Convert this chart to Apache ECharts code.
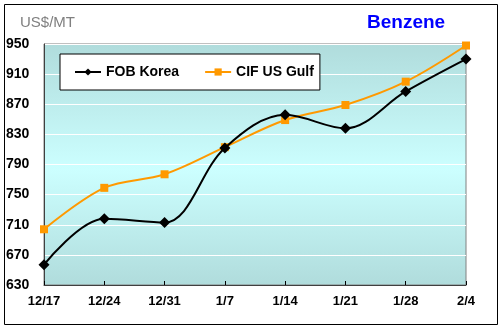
<!DOCTYPE html>
<html>
<head>
<meta charset="utf-8">
<script src="https://cdn.jsdelivr.net/npm/echarts@6/dist/echarts.min.js"></script>
<style>html,body{margin:0;padding:0;background:#fff}#c{width:502px;height:330px}</style>
</head>
<body>
<div id="c"></div>
<script>
var categories = ['12/17','12/24','12/31','1/7','1/14','1/21','1/28','2/4'];
var fobKorea = [657, 718, 713, 812, 856, 838, 887, 930];
var cifUSGulf = [704, 759, 777, 813, 849, 869, 900, 948];
var yTicks = [630, 670, 710, 750, 790, 830, 870, 910, 950];

var chart = echarts.init(document.getElementById('c'), null, {renderer: 'canvas'});
var font = 'Liberation Sans, Arial, sans-serif';
chart.setOption({
  animation: false,
  graphic: [
    {type: 'rect', shape: {x: 4.5, y: 4.5, width: 493, height: 320}, style: {fill: 'none', stroke: '#000', lineWidth: 1}, z: 100},
    {type: 'text', x: 20, y: 23, style: {text: 'US$/MT', fill: '#808080', font: '15px ' + font, verticalAlign: 'middle'}},
    {type: 'text', x: 367, y: 23, style: {text: 'Benzene', fill: '#0000ff', font: 'bold 19px ' + font, verticalAlign: 'middle'}}
  ],
  grid: {
    left: 44, right: 36, top: 44, bottom: 45,
    show: true, borderColor: '#808080', borderWidth: 1,
    backgroundColor: {type: 'linear', x: 0, y: 0, x2: 0, y2: 1, colorStops: [
      {offset: 0, color: '#b0dcdc'}, {offset: 0.52, color: '#ccffff'}, {offset: 1, color: '#b0dcdc'}
    ]}
  },
  legend: {
    left: 60, top: 54,
    backgroundColor: '#fff', borderColor: '#000', borderWidth: 1,
    padding: [11, 6, 11, 14],
    itemGap: 25, itemWidth: 26, itemHeight: 9,
    textStyle: {fontFamily: font, fontSize: 14, fontWeight: 'bold', color: '#000'},
    data: ['FOB Korea', 'CIF US Gulf']
  },
  xAxis: {
    type: 'category', boundaryGap: false, data: categories,
    axisLine: {lineStyle: {color: '#404040', width: 1}},
    axisTick: {inside: true, length: 4, lineStyle: {color: '#000'}},
    axisLabel: {color: '#000', fontWeight: 'bold', fontSize: 13, fontFamily: font, margin: 10, showMaxLabel: true, showMinLabel: true}
  },
  yAxis: {
    type: 'value', min: 630, max: 950, interval: 40,
    axisLine: {show: true, lineStyle: {color: '#404040'}},
    axisTick: {show: false},
    splitLine: {lineStyle: {color: '#ffffff', width: 1}},
    axisLabel: {color: '#000', fontWeight: 'bold', fontSize: 14, fontFamily: font, align: 'left', margin: 38,
      formatter: function (v) { return yTicks.indexOf(v) >= 0 ? String(v) : ''; }}
  },
  series: [
    {name: 'FOB Korea', type: 'line', data: fobKorea, smooth: 0.35,
     symbol: 'diamond', symbolSize: 11, itemStyle: {color: '#000'}, lineStyle: {color: '#000', width: 2}, z: 3},
    {name: 'CIF US Gulf', type: 'line', data: cifUSGulf, smooth: 0.35,
     symbol: 'rect', symbolSize: 8, itemStyle: {color: '#ff9900'}, lineStyle: {color: '#ff9900', width: 2}, z: 2}
  ]
});
</script>
</body>
</html>
